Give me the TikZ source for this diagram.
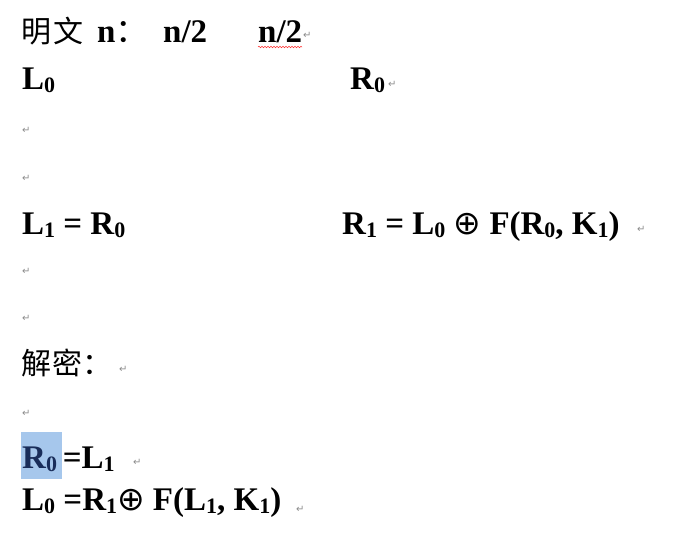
\documentclass[tikz,border=0pt]{standalone}
\usepackage{fontspec}
\setmainfont{Liberation Serif}
\newfontfamily\cjk{Noto Sans CJK SC}
\newfontfamily\symf{DejaVu Sans}
\usetikzlibrary{decorations.pathmorphing}
\newcommand{\lowsub}[1]{\raisebox{-0.25ex}{\fontsize{22}{22}\selectfont #1}}
\definecolor{hl}{RGB}{166,199,236}
\definecolor{hltext}{RGB}{25,45,90}
\tikzset{
  txt/.style={anchor=base west, inner sep=0pt, font=\fontsize{33}{33}\selectfont\bfseries},
  zh/.style={anchor=base west, inner sep=0pt, font=\fontsize{30}{30}\selectfont\cjk},
  pmark/.style={anchor=base west, inner sep=0pt, text=black!45, font=\fontsize{10}{10}\selectfont\symf},
}
\begin{document}
\begin{tikzpicture}[x=1pt,y=-1pt]
\useasboundingbox (0,0) rectangle (680,536);
% line 1
\node[zh] (mw) at (21,42) {明\kern2pt 文};
\node[txt] (n) at (97,42) {n{\cjk\mdseries：}};
\node[txt] (h1) at (163,42) {n/2};
\node[txt] (h2) at (258,42) {n/2};
\node[pmark] (p1) at (303,38) {↵};
\draw[red!80, line width=0.5pt, decorate, decoration={snake, amplitude=0.8pt, segment length=3pt}] (h2.base west) ++(0,5) coordinate (w1) -- ++(44,0) coordinate (w2);
% line 2
\node[txt] (l0) at (22,89) {L\lowsub{0}};
\node[txt] (r0) at (350,89) {R\lowsub{0}};
\node[pmark] (p2) at (388,87) {↵};
\node[pmark] (p3) at (22,133) {↵};
\node[pmark] (p4) at (22,181) {↵};
% round 1
\node[txt] (l1) at (22,234) {L\lowsub{1} = R\lowsub{0}};
\node[txt] (r1) at (342,234) {R\lowsub{1} = L\lowsub{0} {\symf\mdseries ⊕} F(R\lowsub{0}, K\lowsub{1})};
\node[pmark] (p5) at (637,232) {↵};
\node[pmark] (p6) at (22,274) {↵};
\node[pmark] (p7) at (22,321) {↵};
% decryption
\node[zh] (jm) at (21,374) {解\kern1pt 密：};
\node[pmark] (p8) at (119,372) {↵};
\node[pmark] (p9) at (22,416) {↵};
\fill[hl] (21,432) rectangle (62,479);
\node[txt, text=hltext] (d1a) at (22,468) {R\lowsub{0}};
\node[txt] (d1b) at (d1a.base east) {\,=L\lowsub{1}};
\node[pmark] (p10) at (133,465) {↵};
\node[txt] (d2) at (22,510) {L\lowsub{0} =R\lowsub{1}{\symf\mdseries ⊕} F(L\lowsub{1}, K\lowsub{1})};
\node[pmark] (p11) at (296,512) {↵};
\end{tikzpicture}
\end{document}
